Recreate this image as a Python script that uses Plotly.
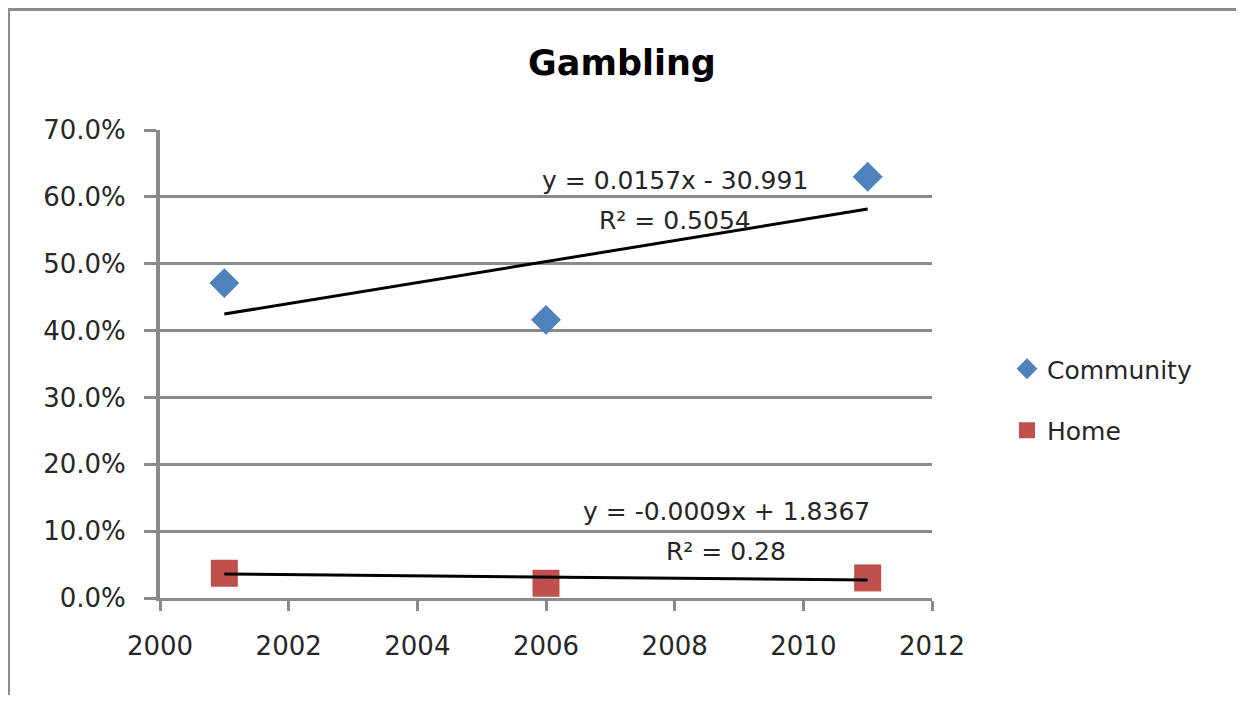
import plotly.graph_objects as go

# Data
years = [2001, 2006, 2011]
community = [0.471, 0.416, 0.630]
home = [0.037, 0.022, 0.030]

# Trendline coefficients as printed on the chart
comm_slope, comm_icpt = 0.0157, -30.991
home_slope, home_icpt = -0.0009, 1.8367
comm_eq = ["y = 0.0157x - 30.991", "R² = 0.5054"]
home_eq = ["y = -0.0009x + 1.8367", "R² = 0.28"]

x_ticks = [2000, 2002, 2004, 2006, 2008, 2010, 2012]
y_ticks = [0.0, 0.1, 0.2, 0.3, 0.4, 0.5, 0.6, 0.7]

# page has an 8px body margin; figure sized to fill the window exactly
OFF = 8
W, H = 1244 - 2 * OFF, 703 - 2 * OFF
# plot area in page pixels
PL, PR, PT, PB = 160, 932, 130, 598
L, T = PL - OFF, PT - OFF
R, B = W - (PR - OFF), H - (PB - OFF)
pw, ph = W - L - R, H - T - B


def px_x(p):  # page px -> paper x
    return (p - OFF - L) / pw


def px_y(p):  # page px -> paper y
    return (H - B - (p - OFF)) / ph


FONT = "'DejaVu Sans', sans-serif"
GRID = "#8a8a8a"
TXT = "#262626"

fig = go.Figure()

fig.add_trace(go.Scatter(x=years, y=community, mode="markers", name="Community",
                         legendgroup="a",
                         marker=dict(symbol="diamond", size=23, color="#4F81BD")))
fig.add_trace(go.Scatter(x=years, y=home, mode="markers", name="Home",
                         legendgroup="b",
                         marker=dict(symbol="square", size=27, color="#C0504D")))

trend_x = [years[0], years[-1]]
fig.add_trace(go.Scatter(x=trend_x, y=[comm_slope * v + comm_icpt for v in trend_x],
                         mode="lines", line=dict(color="black", width=3),
                         showlegend=False, hoverinfo="skip"))
fig.add_trace(go.Scatter(x=trend_x, y=[home_slope * v + home_icpt for v in trend_x],
                         mode="lines", line=dict(color="black", width=3),
                         showlegend=False, hoverinfo="skip"))

annots = []
for txt, yy in zip(comm_eq, [0.625, 0.565]):
    annots.append(dict(x=2008.0, y=yy, text=txt, showarrow=False,
                       font=dict(family=FONT, size=25, color=TXT)))
for txt, yy in zip(home_eq, [0.129, 0.069]):
    annots.append(dict(x=2008.8, y=yy, text=txt, showarrow=False,
                       font=dict(family=FONT, size=25, color=TXT)))

shapes = [
    dict(type="line", xref="paper", yref="paper", x0=px_x(7), x1=px_x(1244),
         y0=px_y(9), y1=px_y(9), line=dict(color="#8c8c8c", width=4)),
    dict(type="line", xref="paper", yref="paper", x0=px_x(8.5), x1=px_x(8.5),
         y0=px_y(9), y1=px_y(705), line=dict(color="#8c8c8c", width=3)),
    dict(type="line", xref="paper", yref="paper", x0=px_x(1242), x1=px_x(1242),
         y0=px_y(9), y1=px_y(705), line=dict(color="#8c8c8c", width=2)),
]

fig.update_layout(
    width=W, height=H,
    margin=dict(l=L, r=R, t=T, b=B, autoexpand=False),
    paper_bgcolor="white", plot_bgcolor="white",
    title=dict(text="<b>Gambling</b>", x=0.5, xref="container", xanchor="center",
               y=1 - (63 - OFF) / H, yref="container", yanchor="middle",
               font=dict(family=FONT, size=35, color="black")),
    xaxis=dict(range=[2000, 2012], tickvals=x_ticks, ticktext=[str(v) for v in x_ticks],
               showgrid=False, zeroline=False, showline=True, linecolor=GRID, linewidth=3,
               ticks="outside", ticklen=10, tickwidth=3, tickcolor=GRID,
               tickfont=dict(family=FONT, size=26, color=TXT), ticklabelstandoff=13),
    yaxis=dict(range=[0, 0.7], tickvals=y_ticks, tickformat=".1%",
               showgrid=True, gridcolor=GRID, gridwidth=3, zeroline=False,
               showline=True, linecolor=GRID, linewidth=4,
               ticks="outside", ticklen=12, tickwidth=3, tickcolor=GRID,
               tickfont=dict(family=FONT, size=26, color=TXT), ticklabelstandoff=13),
    legend=dict(x=px_x(1007), y=px_y(346), xanchor="left", yanchor="top",
                traceorder="grouped", tracegroupgap=26,
                font=dict(family=FONT, size=25, color=TXT), itemwidth=30,
                bgcolor="rgba(0,0,0,0)"),
    annotations=annots,
    shapes=shapes,
)

fig.write_html("out.html")
